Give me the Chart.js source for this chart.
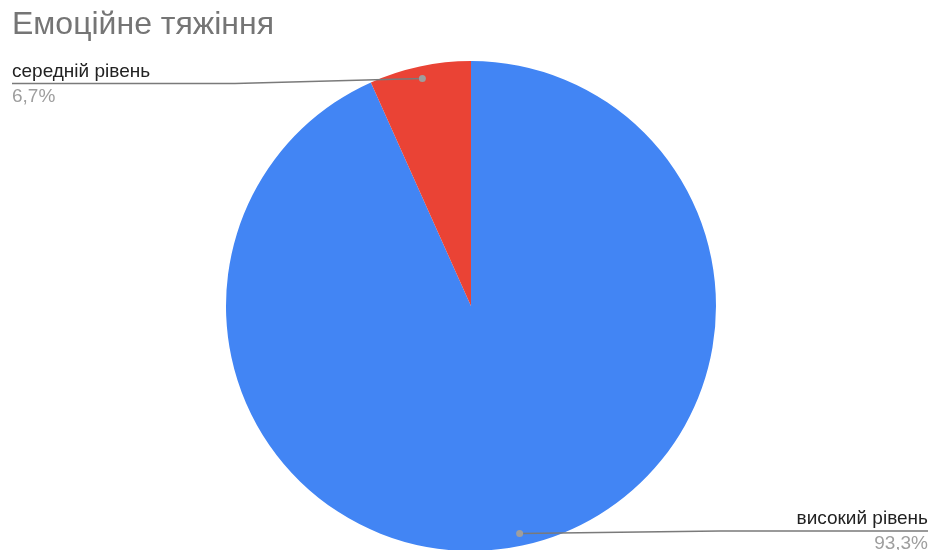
<!DOCTYPE html>
<html lang="uk">
<head>
<meta charset="UTF-8">
<title>Емоційне тяжіння</title>
<style>
  html, body { margin: 0; padding: 0; background: #fff; overflow: hidden; }
  .chart-wrap { position: relative; width: 931px; height: 560px; }
</style>
</head>
<body>
<div class="chart-wrap">
  <canvas id="pieChart"></canvas>
</div>
<script src="https://cdn.jsdelivr.net/npm/chart.js"></script>
<script>
  const chartTitle = 'Емоційне тяжіння';
  const categories = ['високий рівень', 'середній рівень'];
  const shares = [93.3, 6.7];
  const sliceColors = ['#4285F4', '#EA4335'];

  const FONT = '"Liberation Sans", Arial, sans-serif';

  // where each callout sits: text anchor and the elbow of its leader line
  const callouts = [
    { align: 'right', textX: 928, nameY: 524, valueY: 549, lineY: 531, elbowX: 720 },
    { align: 'left',  textX: 12,  nameY: 77,  valueY: 102, lineY: 83.5, elbowX: 235 }
  ];

  const fmt = v => v.toFixed(1).replace('.', ',') + '%';

  const calloutPlugin = {
    id: 'callouts',
    afterDraw(chart) {
      const ctx = chart.ctx;
      const meta = chart.getDatasetMeta(0);

      ctx.save();
      // title
      ctx.font = '32px ' + FONT;
      ctx.fillStyle = '#757575';
      ctx.textAlign = 'left';
      ctx.textBaseline = 'alphabetic';
      ctx.fillText(chartTitle, 12, 34);

      meta.data.forEach((arc, i) => {
        const c = callouts[i];
        const mid = (arc.startAngle + arc.endAngle) / 2;
        const r = arc.outerRadius * 0.95;
        const dx = arc.x + Math.cos(mid) * r;
        const dy = arc.y + Math.sin(mid) * r;

        // leader line
        ctx.strokeStyle = '#7a7a7a';
        ctx.lineWidth = 1.5;
        ctx.beginPath();
        ctx.moveTo(dx, dy);
        ctx.lineTo(c.elbowX, c.lineY);
        ctx.lineTo(c.textX, c.lineY);
        ctx.stroke();

        // dot on the slice
        ctx.fillStyle = '#9e9e9e';
        ctx.beginPath();
        ctx.arc(dx, dy, 3.5, 0, Math.PI * 2);
        ctx.fill();

        // label text
        ctx.textAlign = c.align;
        ctx.font = '19px ' + FONT;
        ctx.fillStyle = '#222222';
        ctx.fillText(categories[i], c.textX, c.nameY);
        ctx.fillStyle = '#9e9e9e';
        ctx.fillText(fmt(shares[i]), c.textX, c.valueY);
      });
      ctx.restore();
    }
  };

  new Chart(document.getElementById('pieChart'), {
    type: 'pie',
    data: {
      labels: categories,
      datasets: [{
        data: shares,
        backgroundColor: sliceColors,
        borderWidth: 0,
        hoverOffset: 0
      }]
    },
    options: {
      responsive: true,
      maintainAspectRatio: false,
      animation: false,
      layout: {
        padding: { left: 226, right: 215, top: 61, bottom: 9 }
      },
      plugins: {
        legend: { display: false },
        tooltip: { enabled: false },
        title: { display: false }
      }
    },
    plugins: [calloutPlugin]
  });
</script>
</body>
</html>
